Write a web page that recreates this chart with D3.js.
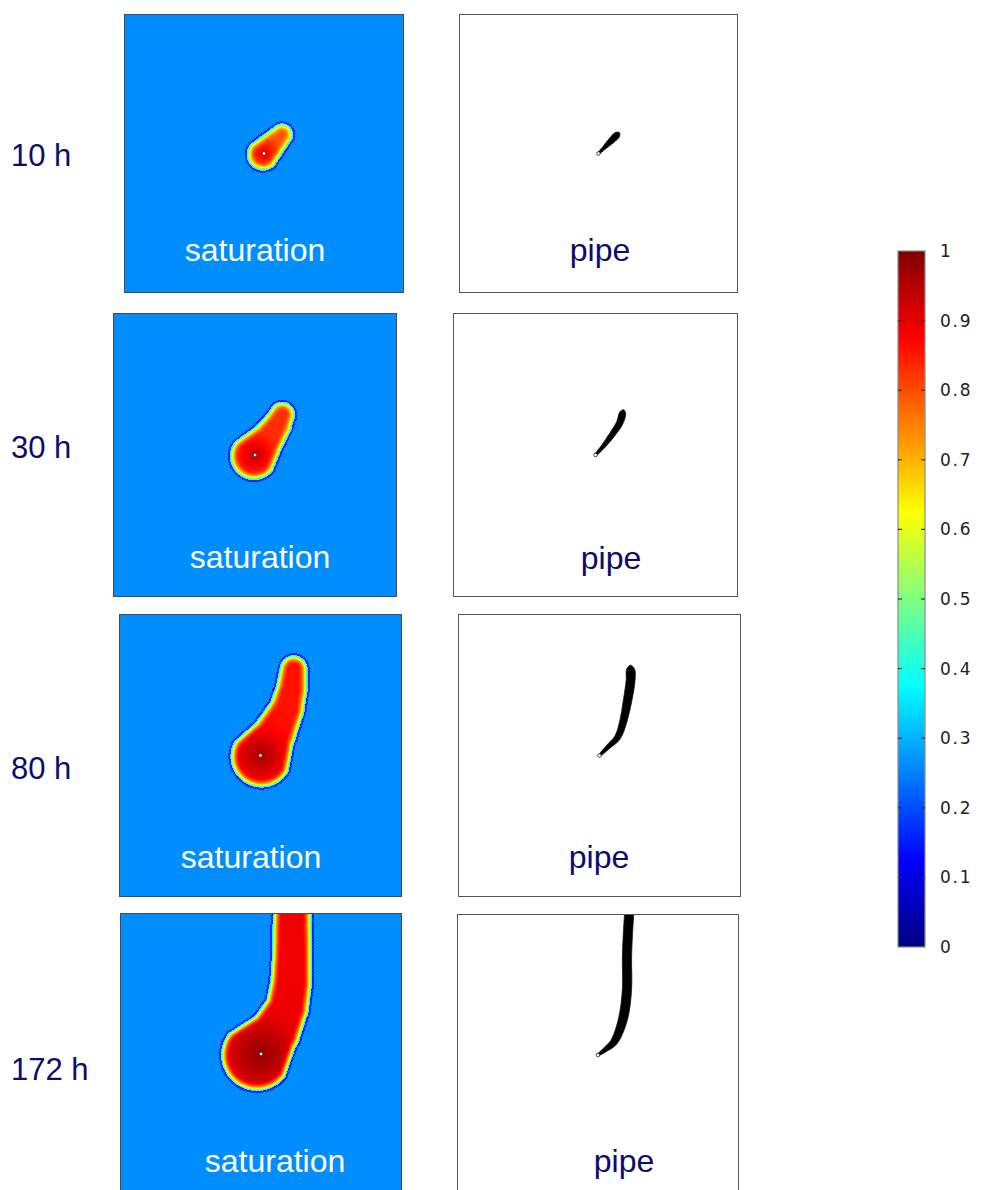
<!DOCTYPE html>
<html>
<head>
<meta charset="utf-8">
<script src="https://cdn.jsdelivr.net/npm/d3@7"></script>
<style>
  body { margin: 0; background: #fff; }
  svg { display: block; }
</style>
</head>
<body>
<svg id="fig" width="982" height="1190"></svg>
<script>
// ---- data -------------------------------------------------------------
const times = ["10 h", "30 h", "80 h", "172 h"];

// plume centrelines [x, y, radius] in model units, well at origin, y upward
const plume10  = [[-1, -1, 16.5], [18, 19, 11.5]];
const plume30  = [[-1, -1, 24], [14, 18, 17], [22, 30, 15], [27, 40, 13]];
const plume80  = [[1, -1, 31], [14, 22, 22], [26, 46, 18], [31, 66, 16], [33, 86, 14]];
const plume172 = [[-4, -1, 36], [14, 22, 26], [26, 46, 22], [30, 70, 21], [31, 100, 20], [31, 130, 19.5], [32, 160, 19]];

// saturation near the well, in the plume body, and the core radius
const coreSat    = [0.88, 0.92, 0.95, 0.97];
const bodySat    = [0.79, 0.83, 0.86, 0.89];
const coreRadius = [12, 15, 22, 28];

// ambient saturation, value at the plume front, undershoot ring just outside
const ambientSat = 0.265;
const frontSat = 0.36;
const ringSat = 0.13;

// pipe centrelines [x, y, half-width] in model units
const pipe10  = [[0, 0, 0.6], [6, 6, 1.8], [13, 13, 3], [19, 19, 3]];
const pipe30  = [[0, 0, 0.6], [8, 9, 2], [17, 21, 2.8], [24, 32, 3.2], [27, 42, 3]];
const pipe80  = [[0, 0, 0.6], [9, 9, 2.2], [18, 18, 3], [24, 35, 3.6], [28, 55, 4.2], [31, 75, 4.4], [31, 86, 4]];
const pipe172 = [[0, 0, 0.6], [8, 6, 2.4], [16, 13, 3.5], [25, 36, 4.5], [29, 66, 4.6], [29, 99, 4.6], [31, 139, 4.6], [32, 150, 4.6]];

// colour bar
const cbTicks = [0, 0.1, 0.2, 0.3, 0.4, 0.5, 0.6, 0.7, 0.8, 0.9, 1];

// ---- layout -----------------------------------------------------------
const plumes = [plume10, plume30, plume80, plume172];
const pipes = [pipe10, pipe30, pipe80, pipe172];
const satBoxes  = [{x:124,y:14,w:280,h:279},{x:113,y:313,w:284,h:284},{x:119,y:614,w:283,h:283},{x:120,y:913,w:282,h:282}];
const pipeBoxes = [{x:459,y:14,w:279,h:279},{x:453,y:313,w:285,h:284},{x:458,y:614,w:283,h:283},{x:457,y:914,w:282,h:282}];
const satLabelPos  = [{x:255,y:261},{x:260,y:568},{x:251,y:868},{x:275,y:1172}];
const pipeLabelPos = [{x:600,y:261},{x:611,y:569},{x:599,y:868},{x:624,y:1172}];
const timeLabelY = [166, 458, 779, 1080];
const EXTENT = 141;       // half-width of the model window
const EDGE_WIDTH = 10;    // width of the front transition inside the plume
const RING_WIDTH = 2;
const navy = "#0c0c6e";

const svg = d3.select("#fig");
svg.append("rect").attr("width", 982).attr("height", 1190).attr("fill", "#fff");

// jet colour map
const jet = d3.scaleLinear()
  .domain([0, 0.125, 0.375, 0.625, 0.875, 1])
  .range(["#00007f", "#0000ff", "#00ffff", "#ffff00", "#ff0000", "#7f0000"])
  .clamp(true);
const LUT = d3.range(1025).map(i => d3.rgb(jet(i / 1024)));

function tubeDistance(px, py, pts) {
  let best = Infinity;
  for (let i = 0; i < pts.length - 1; i++) {
    const [x0, y0, r0] = pts[i], [x1, y1, r1] = pts[i + 1];
    const dx = x1 - x0, dy = y1 - y0, L2 = dx * dx + dy * dy;
    let t = ((px - x0) * dx + (py - y0) * dy) / L2;
    t = Math.max(0, Math.min(1, t));
    const d = Math.hypot(px - (x0 + t * dx), py - (y0 + t * dy)) - (r0 + t * (r1 - r0));
    if (d < best) best = d;
  }
  return best;
}

function saturation(mx, my, k, ix, iy) {
  const d = tubeDistance(mx, my, plumes[k]);
  if (d <= 0) {
    const rw = Math.hypot(mx, my) / coreRadius[k];
    const vin = bodySat[k] + (coreSat[k] - bodySat[k]) * Math.exp(-rw * rw);
    const t = Math.min(1, -d / EDGE_WIDTH);
    return frontSat + (vin - frontSat) * (1 - Math.pow(1 - t, 2.2));
  }
  if (d < RING_WIDTH) {
    return ((ix + iy) % 3 !== 2) ? ringSat : ambientSat - 0.04;
  }
  return ambientSat;
}

// closed outline of a pipe of varying width along its centreline
function pipeOutline(pts, sx, sy) {
  const k = Math.abs(sx(1) - sx(0));
  const P = pts.map(d => [sx(d[0]), sy(d[1]), d[2] * k]);
  const n = P.length;
  const left = [], right = [];
  let tx = 0, ty = 0;
  for (let i = 0; i < n; i++) {
    const a = P[Math.max(0, i - 1)], c = P[Math.min(n - 1, i + 1)];
    tx = c[0] - a[0]; ty = c[1] - a[1];
    const L = Math.hypot(tx, ty) || 1;
    tx /= L; ty /= L;
    const nx = -ty, ny = tx;
    left.push([P[i][0] + nx * P[i][2], P[i][1] + ny * P[i][2]]);
    right.push([P[i][0] - nx * P[i][2], P[i][1] - ny * P[i][2]]);
  }
  const last = P[n - 1];
  const tip = [last[0] + tx * last[2], last[1] + ty * last[2]];
  const ring = [...left, tip, ...right.reverse()];
  return d3.line().curve(d3.curveCatmullRomClosed.alpha(0.5))(ring);
}

const defs = svg.append("defs");

times.forEach((label, k) => {
  // ---- saturation panel
  const b = satBoxes[k];
  const xs = d3.scaleLinear().domain([-EXTENT, EXTENT]).range([b.x, b.x + b.w]);
  const ys = d3.scaleLinear().domain([-EXTENT, EXTENT]).range([b.y + b.h, b.y]);
  const canvas = document.createElement("canvas");
  canvas.width = b.w; canvas.height = b.h;
  const ctx = canvas.getContext("2d");
  const img = ctx.createImageData(b.w, b.h);
  for (let iy = 0; iy < b.h; iy++) {
    const my = ys.invert(b.y + iy + 0.5);
    for (let ix = 0; ix < b.w; ix++) {
      const mx = xs.invert(b.x + ix + 0.5);
      const v = saturation(mx, my, k, ix, iy);
      const c = LUT[Math.round(Math.max(0, Math.min(1, v)) * 1024)];
      const o = (iy * b.w + ix) * 4;
      img.data[o] = c.r; img.data[o + 1] = c.g; img.data[o + 2] = c.b; img.data[o + 3] = 255;
    }
  }
  ctx.putImageData(img, 0, 0);
  svg.append("image")
    .attr("x", b.x).attr("y", b.y).attr("width", b.w).attr("height", b.h)
    .attr("preserveAspectRatio", "none")
    .attr("href", canvas.toDataURL());
  svg.append("circle")
    .attr("cx", xs(0)).attr("cy", ys(0)).attr("r", 1.8)
    .attr("fill", "#fff").attr("stroke", "#222").attr("stroke-width", 0.7);
  svg.append("rect")
    .attr("x", b.x + 0.5).attr("y", b.y + 0.5).attr("width", b.w - 1).attr("height", b.h - 1)
    .attr("fill", "none").attr("stroke", "#4a4a4a").attr("stroke-width", 1);
  svg.append("text")
    .attr("x", satLabelPos[k].x).attr("y", satLabelPos[k].y)
    .attr("text-anchor", "middle")
    .attr("font-family", "Liberation Sans, Arial, sans-serif")
    .attr("font-size", 32).attr("fill", "#fff")
    .text("saturation");

  // ---- pipe panel
  const p = pipeBoxes[k];
  const px = d3.scaleLinear().domain([-EXTENT, EXTENT]).range([p.x, p.x + p.w]);
  const py = d3.scaleLinear().domain([-EXTENT, EXTENT]).range([p.y + p.h, p.y]);
  const clipId = "clip" + k;
  defs.append("clipPath").attr("id", clipId)
    .append("rect").attr("x", p.x).attr("y", p.y).attr("width", p.w).attr("height", p.h);
  const g = svg.append("g").attr("clip-path", `url(#${clipId})`);
  g.append("path")
    .attr("d", pipeOutline(pipes[k], px, py))
    .attr("fill", "#000")
    .attr("stroke", "#111").attr("stroke-width", 0.8).attr("stroke-linejoin", "round");
  g.append("circle")
    .attr("cx", px(0)).attr("cy", py(0)).attr("r", 1.8)
    .attr("fill", "#fff").attr("stroke", "#000").attr("stroke-width", 0.7);
  svg.append("rect")
    .attr("x", p.x + 0.5).attr("y", p.y + 0.5).attr("width", p.w - 1).attr("height", p.h - 1)
    .attr("fill", "none").attr("stroke", "#555").attr("stroke-width", 1);
  svg.append("text")
    .attr("x", pipeLabelPos[k].x).attr("y", pipeLabelPos[k].y)
    .attr("text-anchor", "middle")
    .attr("font-family", "Liberation Sans, Arial, sans-serif")
    .attr("font-size", 32).attr("fill", navy)
    .text("pipe");

  // ---- time label
  svg.append("text")
    .attr("x", 11).attr("y", timeLabelY[k])
    .attr("font-family", "Liberation Sans, Arial, sans-serif")
    .attr("font-size", 31).attr("fill", navy)
    .text(label);
});

// ---- colour bar
const cb = { x: 898, y: 251, w: 27, h: 696 };
const cbScale = d3.scaleLinear().domain([0, 1]).range([cb.y + cb.h, cb.y]);
const grad = defs.append("linearGradient").attr("id", "jetGrad")
  .attr("x1", 0).attr("y1", 1).attr("x2", 0).attr("y2", 0);
grad.selectAll("stop").data(d3.range(0, 1.0001, 0.025)).join("stop")
  .attr("offset", d => d).attr("stop-color", d => jet(d));
svg.append("rect")
  .attr("x", cb.x).attr("y", cb.y).attr("width", cb.w).attr("height", cb.h)
  .attr("fill", "url(#jetGrad)").attr("stroke", "#8a8a8a").attr("stroke-width", 1.2);
const inner = cbTicks.filter(t => t > 0 && t < 1);
svg.append("g").selectAll("line").data(inner).join("line")
  .attr("x1", cb.x).attr("x2", cb.x + 4)
  .attr("y1", d => cbScale(d)).attr("y2", d => cbScale(d))
  .attr("stroke", "#333").attr("stroke-width", 1.2);
svg.append("g").selectAll("line").data(inner).join("line")
  .attr("x1", cb.x + cb.w - 4).attr("x2", cb.x + cb.w)
  .attr("y1", d => cbScale(d)).attr("y2", d => cbScale(d))
  .attr("stroke", "#333").attr("stroke-width", 1.2);
const axis = d3.axisRight(cbScale)
  .tickValues(cbTicks)
  .tickSize(0)
  .tickPadding(15)
  .tickFormat(d => (d === 0 || d === 1) ? String(d) : d3.format(".1f")(d));
const ax = svg.append("g").attr("transform", `translate(${cb.x + cb.w},0)`).call(axis);
ax.select(".domain").remove();
ax.selectAll("text")
  .attr("font-family", "DejaVu Sans, sans-serif")
  .attr("font-size", 17)
  .attr("letter-spacing", 1.8)
  .attr("fill", "#222");
</script>
</body>
</html>
